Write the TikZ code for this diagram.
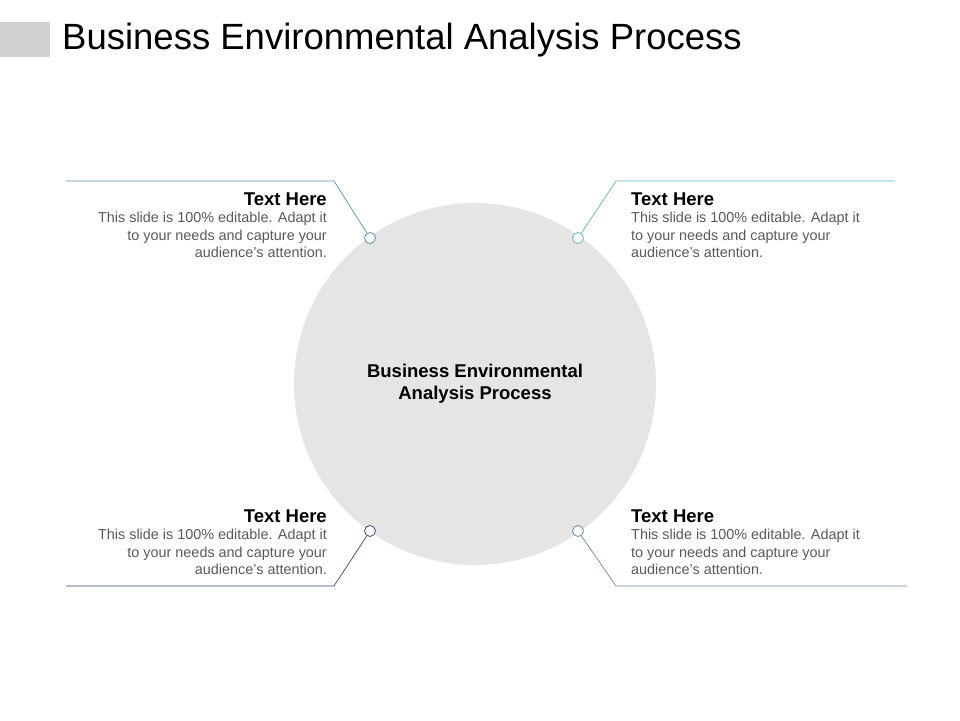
\documentclass[tikz,border=0pt]{standalone}
\usepackage{fontspec}
\setmainfont{Liberation Sans}
\begin{document}
\begin{tikzpicture}[x=1pt,y=-1pt,
  hd/.style={font=\fontsize{18.5}{20}\selectfont\bfseries,inner sep=0pt},
  bd/.style={font=\fontsize{14.4}{17.5}\selectfont,text=black!65,inner sep=0pt},
  dot/.style={circle,draw=#1,fill=white,minimum size=11pt,inner sep=0pt,line width=0.8pt},
  ln/.style={draw=#1,line width=0.7pt}]
\definecolor{cA}{HTML}{5B8DB8}
\definecolor{cB}{HTML}{5BB5CC}
\definecolor{cC}{HTML}{2F4F7A}
\definecolor{cD}{HTML}{6A8CB0}
\useasboundingbox (0,0) rectangle (960,720);
\fill[black!18] (0,22) rectangle (50,57);
\node[anchor=west,font=\fontsize{36.5}{40}\selectfont,inner sep=0pt] (title) at (62,40) {Business Environmental Analysis Process};
\node[circle,fill=black!10,minimum size=362pt,inner sep=0pt] (big) at (475,384) {};
\node[font=\fontsize{18.5}{22}\selectfont\bfseries,align=center] (bt) at (475,384) {Business Environmental\\Analysis Process};
% top-left
\coordinate (a1) at (66,181); \coordinate (a2) at (334,181);
\node[dot=cA] (d1) at (370,238) {};
\draw[ln=cA] (a1) -- (a2) -- (d1);
\node[hd,anchor=east] (h1) at (327,199) {Text Here};
\node[bd,anchor=north east,align=right] (b1) at (327,212) {This slide is 100\% editable. Adapt it\\to your needs and capture your\\audience's attention.};
% top-right
\coordinate (c1) at (895,181); \coordinate (c2) at (616,181);
\node[dot=cB] (d2) at (578,238) {};
\draw[ln=cB] (c1) -- (c2) -- (d2);
\node[hd,anchor=west] (h2) at (631,199) {Text Here};
\node[bd,anchor=north west,align=left] (b2) at (631,212) {This slide is 100\% editable. Adapt it\\to your needs and capture your\\audience's attention.};
% bottom-left
\coordinate (e1) at (66,586); \coordinate (e2) at (334,586);
\node[dot=cC] (d3) at (370,531) {};
\draw[ln=cC] (e1) -- (e2) -- (d3);
\node[hd,anchor=east] (h3) at (327,516) {Text Here};
\node[bd,anchor=north east,align=right] (b3) at (327,529) {This slide is 100\% editable. Adapt it\\to your needs and capture your\\audience's attention.};
% bottom-right
\coordinate (f1) at (907,586); \coordinate (f2) at (616,586);
\node[dot=cD] (d4) at (578,531) {};
\draw[ln=cD] (f1) -- (f2) -- (d4);
\node[hd,anchor=west] (h4) at (631,516) {Text Here};
\node[bd,anchor=north west,align=left] (b4) at (631,529) {This slide is 100\% editable. Adapt it\\to your needs and capture your\\audience's attention.};
\end{tikzpicture}
\end{document}
